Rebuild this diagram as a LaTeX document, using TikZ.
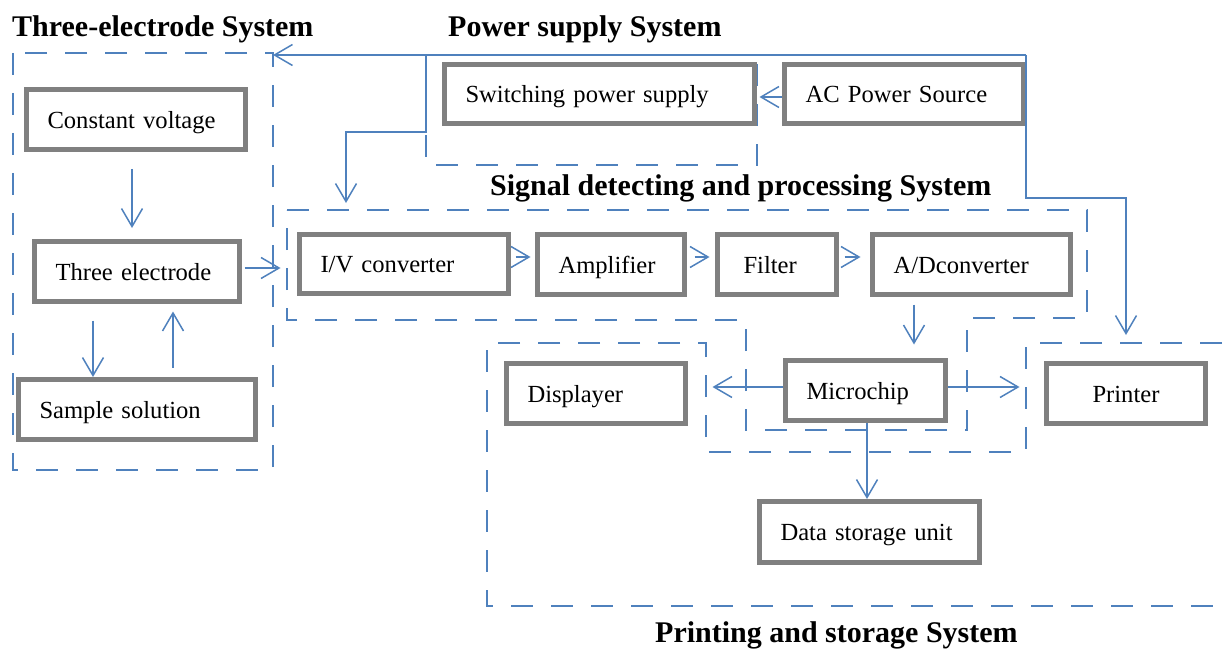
\documentclass[tikz,border=0pt]{standalone}
\usepackage{fontspec}
\setmainfont{Liberation Serif}
\usetikzlibrary{arrows.meta}
\definecolor{lblue}{RGB}{79,129,189}
\definecolor{bgray}{RGB}{128,128,128}
\tikzset{
  box/.style={draw=bgray, line width=5pt, rectangle, inner xsep=21pt, inner ysep=0pt,
    align=left, text height=17.5pt, text depth=0pt, font=\fontsize{24.6}{28}\selectfont},
  conn/.style={draw=lblue, line width=1.5pt, -{Straight Barb[length=18pt,width=21pt]}},
  sys/.style={draw=lblue, line width=1.8pt, dash pattern=on 22pt off 18pt},
  title/.style={font=\bfseries\fontsize{30}{34}\selectfont, anchor=base west, inner sep=0pt},
}
% [options]{name}{x1}{y1}{x2}{y2}{text}  (outer edges in px)
\newcommand\mkbox[7][]{%
  \pgfmathsetmacro\mkbh{#6-#4-5}%
  \pgfmathsetmacro\mktw{#5-#3-5-42}%
  \node[box, text width=\mktw pt, minimum height=\mkbh pt, #1] (#2) at ({(#3+#5)/2},{(#4+#6)/2}) {#7};%
}
\begin{document}
\begin{tikzpicture}[x=1pt,y=-1pt]
\clip (0,0) rectangle (1224,650);

% titles
\node[title] (t1) at (12,37) {Three-electrode System};
\node[title] (t2) at (448,37) {Power supply System};
\node[title] (t3) at (490,195) {Signal detecting and processing System};
\node[title] (t4) at (655,642) {Printing and storage System};

% system outlines
\draw[sys] (13,53) rectangle (273,470);
\draw[sys] (426,55) rectangle (757,165);
\draw[sys] (287,210) -- (1087,210) -- (1087,318) -- (967,318) -- (967,430)
  -- (746,430) -- (746,320) -- (287,320) -- cycle;
\draw[sys] (1222,343) -- (1026,343) -- (1026,452) -- (706,452) -- (706,343)
  -- (487,343) -- (487,606) -- (1224,606);

% boxes
\mkbox{cv}{24}{87}{248}{152}{Constant voltage}
\mkbox{te}{32}{239}{242}{304}{Three electrode}
\mkbox{ss}{16}{377}{258}{442}{Sample solution}
\mkbox{sw}{442}{62}{757}{126}{Switching power supply}
\mkbox{ac}{782}{62}{1026}{126}{AC Power Source}
\mkbox{iv}{297}{232}{511}{296}{I/V converter}
\mkbox{am}{535}{232}{687}{297}{Amplifier}
\mkbox{fi}{715}{232}{839}{297}{\hspace*{5pt}Filter}
\mkbox{ad}{870}{232}{1073}{297}{A/Dconverter}
\mkbox{mc}{783}{358}{948}{423}{Microchip}
\mkbox{di}{504}{361}{688}{426}{Displayer}
\mkbox[align=center]{pr}{1044}{361}{1208}{426}{Printer}
\mkbox{ds}{757}{499}{982}{565}{Data storage unit}

% junction coordinates of the power wiring
\coordinate (j1) at (1026,55);
\coordinate (j2) at (426,55);
\coordinate (tes) at (273,55);
\coordinate (sig) at (346,210);
\coordinate (prs) at (1126,343);

% connectors
\draw[conn, shorten <=17pt, shorten >=11pt] (cv.south -| 132,0) -- (te.north -| 132,0);
\draw[conn, shorten <=16.5pt] (te.south -| 93,0) -- (ss.north -| 93,0);
\draw[conn, shorten <=9.5pt, shorten >=7.5pt] (ss.north -| 173,0) -- (te.south -| 173,0);
\draw[conn, shorten <=2.5pt, shorten >=16.5pt] (te.east |- 0,268) -- (iv.west |- 0,268);
\draw[conn, shorten <=4.5pt, shorten >=4.5pt] (iv.east |- 0,257) -- (am.west |- 0,257);
\draw[conn, shorten <=7.5pt, shorten >=5.5pt] (am.east |- 0,257) -- (fi.west |- 0,257);
\draw[conn, shorten <=5.5pt, shorten >=9.5pt] (fi.east |- 0,257) -- (ad.west |- 0,257);
\draw[conn, shorten <=7.5pt, shorten >=13.5pt] (ad.south -| 914,0) -- (mc.north -| 914,0);
\draw[conn, shorten >=24.5pt] (mc.west |- 0,387) -- (di.east |- 0,387);
\draw[conn, shorten >=24.5pt] (mc.east |- 0,387) -- (pr.west |- 0,387);
\draw[conn] (mc.south -| 867,0) -- (ds.north -| 867,0);
\draw[conn, shorten >=2.5pt] (ac.west |- 0,97) -- (sw.east |- 0,97);
\draw[conn] (j1) -- (tes);
\draw[conn, shorten >=8pt] (j1) -- (1026,198) -| (prs);
\draw[conn, shorten >=7pt] (j2) -- (426,132) -| (sig);
\end{tikzpicture}
\end{document}
